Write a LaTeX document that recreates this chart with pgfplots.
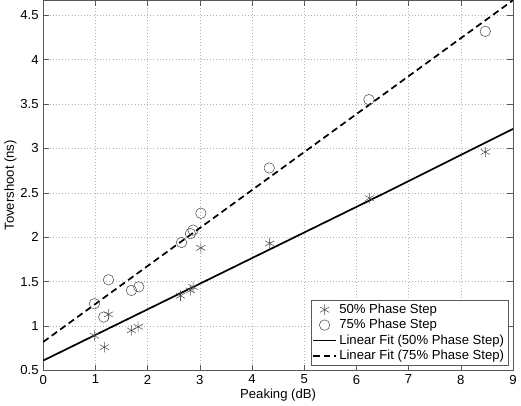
\documentclass[border=0pt]{standalone}
\usepackage{fontspec}
\setmainfont{Liberation Sans}
\usepackage{pgfplots}
\pgfplotsset{compat=1.18}
\begin{document}
\begin{tikzpicture}
\begin{axis}[
    scale only axis,
    width=358pt, height=282pt,
    xmin=0, xmax=9, ymin=0.5, ymax=4.67,
    xtick={0,1,...,9},
    ytick={0.5,1,...,4.5},
    grid=major,
    major grid style={dotted,gray!60},
    tick align=inside,
    tick pos=both,
    axis line style={gray!70!black},
    every tick/.style={gray!70!black},
    xlabel={Peaking (dB)},
    ylabel={Tovershoot (ns)},
    xlabel style={yshift=3pt},
    ylabel style={yshift=-4pt},
    /pgf/number format/assume math mode=true,
    ticklabel style={font=\normalsize},
    label style={font=\normalsize},
    legend style={at={(0.99,0.012)},anchor=south east,font=\normalsize,
        draw=gray!70!black,inner sep=1pt,row sep=-1pt},
    legend cell align=left,
]
\addplot[only marks,mark=asterisk,mark size=4pt,gray!60!black] coordinates {
(0.98,0.89) (1.17,0.76) (1.25,1.13) (1.69,0.95) (1.82,0.99)
(2.63,1.34) (2.82,1.40) (2.87,1.44) (3.02,1.88) (4.34,1.93)
(6.25,2.44) (8.47,2.96)
};
\addplot[only marks,mark=o,mark size=4pt,gray!60!black] coordinates {
(0.98,1.25) (1.16,1.10) (1.25,1.52) (1.69,1.40) (1.83,1.44)
(2.65,1.94) (2.82,2.04) (2.87,2.08) (3.02,2.27) (4.33,2.78)
(6.24,3.55) (8.47,4.32)
};
\addplot[black,line width=1.3pt] coordinates {(0,0.61) (6.55,2.50) (9,3.22)};
\addplot[black,line width=1.3pt,dash pattern=on 5pt off 3pt] coordinates {(0,0.82) (9,4.67)};
\legend{50\% Phase Step,75\% Phase Step,Linear Fit (50\% Phase Step),Linear Fit (75\% Phase Step)}
\end{axis}
\end{tikzpicture}
\end{document}
